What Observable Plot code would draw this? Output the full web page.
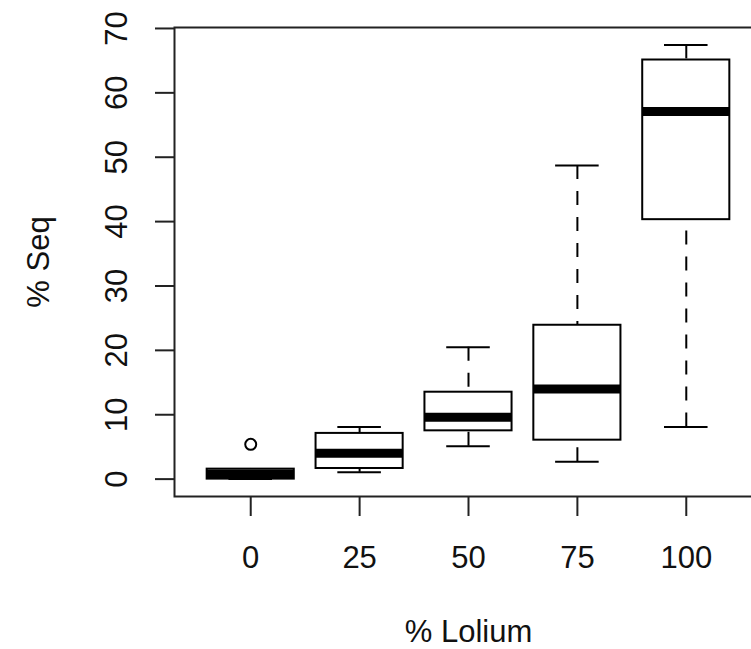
<!DOCTYPE html>
<html>
<head>
<meta charset="utf-8">
<script src="https://cdn.jsdelivr.net/npm/d3@7"></script>
<script src="https://cdn.jsdelivr.net/npm/@observablehq/plot@0.6"></script>
<style>
  html, body { margin: 0; padding: 0; background: #fff; }
  #chart svg { display: block; }
</style>
</head>
<body>
<div id="chart"></div>
<script>
// Categories (% Lolium) and box statistics (% Seq)
const groups = ["0", "25", "50", "75", "100"];
const lowerWhisker = [0, 1.05, 5.1, 2.7, 8.1];
const q1 = [0, 1.65, 7.5, 6.05, 40.3];
const median = [0.8, 4.0, 9.6, 14.0, 57.1];
const q3 = [1.55, 7.1, 13.5, 23.9, 65.1];
const upperWhisker = [1.55, 8.1, 20.5, 48.7, 67.45];
const outlierGroup = ["0"];
const outlierValue = [5.4];
const yTicks = [0, 10, 20, 30, 40, 50, 60, 70];

const boxes = groups.map((g, i) => ({
  g, pos: i + 1,
  lo: lowerWhisker[i], q1: q1[i], med: median[i], q3: q3[i], hi: upperWhisker[i]
}));
const outliers = outlierGroup.map((g, i) => ({pos: groups.indexOf(g) + 1, v: outlierValue[i]}));
const xPositions = boxes.map(d => d.pos);

const half = 0.4, capHalf = 0.2;
const ink = "#000";
const font = "'Liberation Sans', Arial, sans-serif";

const plot = Plot.plot({
  width: 751,
  height: 649,
  marginLeft: 174,
  marginRight: -11,
  marginTop: 27,
  marginBottom: 153,
  style: {fontFamily: font, background: "#fff", color: "#111"},
  x: {domain: [0.3, 5.7]},
  y: {domain: [-2.7, 70.15]},
  marks: [
    Plot.frame({stroke: "#222", strokeWidth: 2}),
    Plot.axisY(yTicks, {tickSize: 19, tickFormat: () => "", label: null, stroke: "#222", strokeWidth: 2}),
    Plot.axisX(xPositions, {tickSize: 20, tickFormat: () => "", label: null, stroke: "#222", strokeWidth: 2}),
    // whiskers (dashed)
    Plot.ruleX(boxes, {x: "pos", y1: "hi", y2: "q3", stroke: ink, strokeWidth: 2, strokeDasharray: "14,12"}),
    Plot.ruleX(boxes, {x: "pos", y1: "lo", y2: "q1", stroke: ink, strokeWidth: 2, strokeDasharray: "14,12"}),
    // whisker caps
    Plot.ruleY(boxes, {y: "hi", x1: d => d.pos - capHalf, x2: d => d.pos + capHalf, stroke: ink, strokeWidth: 2}),
    Plot.ruleY(boxes, {y: "lo", x1: d => d.pos - capHalf, x2: d => d.pos + capHalf, stroke: ink, strokeWidth: 2}),
    // boxes
    Plot.rect(boxes, {x1: d => d.pos - half, x2: d => d.pos + half, y1: "q1", y2: "q3", fill: "#fff", stroke: ink, strokeWidth: 2}),
    // medians
    Plot.ruleY(boxes, {y: "med", x1: d => d.pos - half, x2: d => d.pos + half, stroke: ink, strokeWidth: 9}),
    // outliers
    Plot.dot(outliers, {x: "pos", y: "v", r: 5.5, stroke: ink, strokeWidth: 2, fill: "none"}),
    // y tick labels (rotated, like R)
    Plot.text(yTicks, {y: d => d, text: d => String(d), frameAnchor: "left", dx: -57, rotate: -90,
      fontSize: 31, lineAnchor: "middle", textAnchor: "middle", fill: "#111"}),
    // x tick labels
    Plot.text(boxes, {x: "pos", text: "g", frameAnchor: "bottom", dy: 62, fontSize: 31, lineAnchor: "middle", fill: "#111"}),
    // axis titles
    Plot.text(["% Lolium"], {text: d => d, frameAnchor: "bottom", dy: 136, fontSize: 31, lineAnchor: "middle", fill: "#111"}),
    Plot.text(["% Seq"], {text: d => d, frameAnchor: "left", dx: -135, rotate: -90, fontSize: 31, lineAnchor: "middle", textAnchor: "middle", fill: "#111"})
  ]
});
document.getElementById("chart").appendChild(plot);
</script>
</body>
</html>
